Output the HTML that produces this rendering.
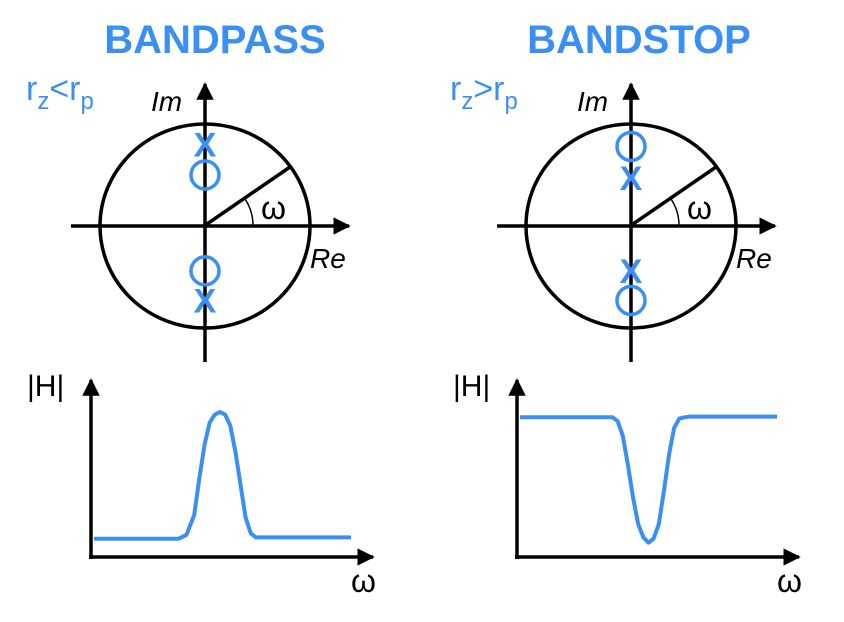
<!DOCTYPE html>
<html><head><meta charset="utf-8"><style>
html,body{margin:0;padding:0;background:#fff;}
svg{display:block;font-family:"Liberation Sans",Arial,sans-serif;}
</style></head><body>
<svg id="fig" width="844" height="622" viewBox="0 0 844 622">
<defs>
<marker id="ah" viewBox="0 0 10 10" refX="9" refY="5" markerWidth="5" markerHeight="5" orient="auto"><path d="M0,0 L10,5 L0,10 z" fill="#000"/></marker>
</defs>
<text x="215" y="53" text-anchor="middle" font-size="40" font-weight="bold" fill="#3a8ff5">BANDPASS</text>
<text x="639" y="53" text-anchor="middle" font-size="40" font-weight="bold" fill="#3a8ff5">BANDSTOP</text>
<text x="26" y="100" font-size="34" fill="#3a8ff5">r<tspan font-size="24" dy="9">z</tspan><tspan dy="-9">&lt;r</tspan><tspan font-size="24" dy="9">p</tspan></text>
<text x="450" y="100" font-size="34" fill="#3a8ff5">r<tspan font-size="24" dy="9">z</tspan><tspan dy="-9">&gt;r</tspan><tspan font-size="24" dy="9">p</tspan></text>
<g id="planes"></g>
<g id="plots"></g>
</svg>
<script>
// pole-zero data: imaginary coordinates (unit circle = 1)
const bpPoles = [0.8, -0.73];
const bpZeros = [0.5, -0.44];
const bsPoles = [0.47, -0.44];
const bsZeros = [0.78, -0.73];
// magnitude response samples (x in 0..1 of plot, |H| in 0..1)
const bpX = [0,0.33,0.36,0.39,0.41,0.43,0.45,0.47,0.49,0.51,0.53,0.55,0.57,0.59,0.61,0.63,0.65,0.68,0.73,1];
const bpH = [0.04,0.04,0.07,0.22,0.5,0.75,0.92,0.98,1.0,0.98,0.9,0.7,0.45,0.2,0.08,0.05,0.05,0.05,0.05,0.05];
const bsX = [0,0.36,0.38,0.40,0.42,0.44,0.46,0.48,0.50,0.52,0.54,0.56,0.58,0.60,0.62,0.64,0.66,0.69,1];
const bsH = [0.96,0.96,0.93,0.82,0.6,0.35,0.15,0.05,0.01,0.04,0.15,0.4,0.68,0.88,0.95,0.96,0.965,0.965,0.965];

const NS='http://www.w3.org/2000/svg';
function mk(tag, attrs, parent, text){
  const e=document.createElementNS(NS,tag);
  for(const k in attrs) e.setAttribute(k,attrs[k]);
  if(text!==undefined) e.textContent=text;
  parent.appendChild(e); return e;
}
const BLUE='#3a8ff5';
const planes=document.getElementById('planes');
function plane(cx, cy, poles, zeros, key){
  const g=mk('g',{},planes);
  
  
  const rx=105, ry=102;
  const c=mk('ellipse',{cx:cx,cy:cy,rx:rx,ry:ry,fill:'none',stroke:'#000','stroke-width':3.5},g);
  
  
  const xa=mk('line',{x1:cx-134,y1:cy,x2:cx+144,y2:cy,stroke:'#000','stroke-width':3.5,'marker-end':'url(#ah)'},g);
  
  
  const ya=mk('line',{x1:cx,y1:cy+136,x2:cx,y2:cy-142,stroke:'#000','stroke-width':3.5,'marker-end':'url(#ah)'},g);
  
  
  const r=mk('line',{x1:cx+2,y1:cy-2,x2:cx+85,y2:cy-59,stroke:'#000','stroke-width':3.5},g);
  
  
  const a=mk('path',{d:`M${cx+40},${cy-27} A48,48 0 0 1 ${cx+48},${cy}`,fill:'none',stroke:'#000','stroke-width':1.5},g);
  
  
  const w=mk('text',{x:cx+56,y:cy-7,'font-size':32},g,'ω');
  
  
  const re=mk('text',{x:cx+105,y:cy+42,'font-size':28,'font-style':'italic'},g,'Re');
  
  
  const im=mk('text',{x:cx-54,y:cy-115,'font-size':28,'font-style':'italic'},g,'Im');
  
  
  poles.forEach(v=>{
    const y=cy-v*ry;
    const p=mk('text',{x:cx,y:y+12,'text-anchor':'middle','font-size':34,'font-weight':'bold',fill:BLUE},g,'X');
    
    
  });
  zeros.forEach(v=>{
    const y=cy-v*ry;
    const z=mk('circle',{cx:cx,cy:y,r:14,fill:'none',stroke:BLUE,'stroke-width':3.5},g);
    
    
  });
}
plane(205,226,bpPoles,bpZeros,'bandpass');
plane(631,226,bsPoles,bsZeros,'bandstop');

const plots=document.getElementById('plots');
function plot(ox, xs, hs, key){
  const g=mk('g',{},plots);
  
  
  const y0=557, x1=ox+282;
  const xv=v=>ox+3+v*(x1-ox-25);
  const yv=h=>544-h*(544-412);
  const ya=mk('line',{x1:ox,y1:y0+2,x2:ox,y2:380,stroke:'#000','stroke-width':3.5,'marker-end':'url(#ah)'},g);
  
  
  const xa=mk('line',{x1:ox-2,y1:y0,x2:x1,y2:y0,stroke:'#000','stroke-width':3.5,'marker-end':'url(#ah)'},g);
  
  
  const hl=mk('text',{x:ox-64,y:396,'font-size':30},g,'|H|');
  
  
  const wl=mk('text',{x:x1-22,y:592,'font-size':32},g,'ω');
  
  
  let d='';
  xs.forEach((x,i)=>{d+=(i?'L':'M')+xv(x).toFixed(1)+','+yv(hs[i]).toFixed(1);});
  const c=mk('path',{d:d,fill:'none',stroke:BLUE,'stroke-width':4,'stroke-linejoin':'round'},g);
  
  
}
plot(91,bpX,bpH,'bandpass');
plot(517,bsX,bsH,'bandstop');
</script>
</body></html>
